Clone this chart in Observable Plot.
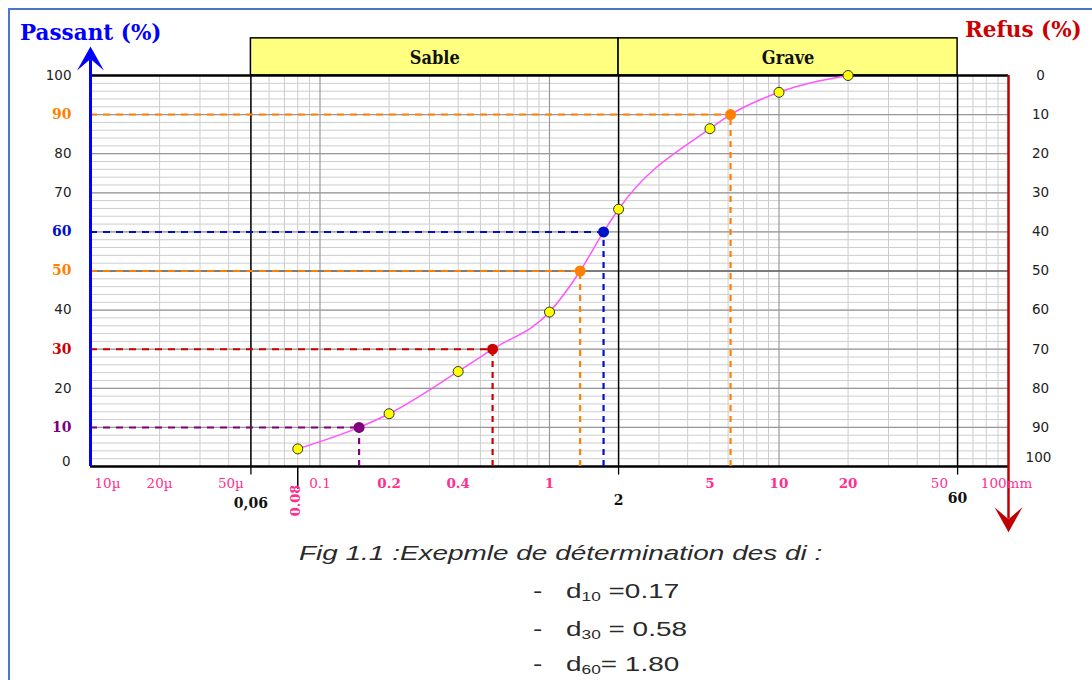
<!DOCTYPE html>
<html><head><meta charset="utf-8">
<script src="https://cdn.jsdelivr.net/npm/d3@7"></script>
<script src="https://cdn.jsdelivr.net/npm/@observablehq/plot@0.6"></script>
<style>
body{margin:0;background:#fff;width:1092px;height:680px;overflow:hidden;position:relative;font-family:"Liberation Sans",Arial,sans-serif;}
#frame{position:absolute;left:8px;top:8px;width:1100px;height:700px;border-top:2px solid #4a78c8;border-left:2px solid #4a78c8;}
#chart{position:absolute;left:0;top:0;}
.title{position:absolute;font-family:"DejaVu Serif",serif;font-weight:bold;font-size:21.5px;white-space:nowrap;line-height:24px;}
.cap{position:absolute;font-size:21px;color:#2a2a2a;white-space:nowrap;transform:scaleX(1.33);transform-origin:0 0;line-height:24px;}
.cap sub{font-size:13px;vertical-align:-3px;}
</style></head><body>
<div id="frame"></div>
<div id="chart"></div>
<div class="title" id="tl" style="left:20px;top:21px;color:#0000ff">Passant (%)</div>
<div class="title" id="tr" style="left:965px;top:18px;color:#cc0000">Refus (%)</div>
<div class="cap" style="left:299px;top:541px;font-style:italic">Fig 1.1 :Exepmle de détermination des di :</div>
<div class="cap" style="left:533px;top:579px">-</div>
<div class="cap" style="left:566px;top:579px">d<sub>10</sub> =0.17</div>
<div class="cap" style="left:533px;top:617px">-</div>
<div class="cap" style="left:566px;top:617px">d<sub>30</sub> = 0.58</div>
<div class="cap" style="left:533px;top:652px">-</div>
<div class="cap" style="left:566px;top:652px">d<sub>60</sub>= 1.80</div>
<script>
// ---- data ----
const sieveSizes = [0.08, 0.2, 0.4, 1, 2, 5, 10, 20];
const passing    = [4.5, 13.5, 24.3, 39.5, 65.8, 86.4, 95.7, 100];

const dNames   = ["d10", "d30", "d50", "d60", "d90"];
const dPercent = [10, 30, 50, 60, 90];
const dSize    = [0.148, 0.565, 1.36, 1.72, 6.15];

const zoneNames  = ["Sable", "Grave"];
const limits     = [0.05, 2, 60];
const limitLabels = ["0,06", "2", "60"];

const xTickValues = [0.01, 0.02, 0.05, 0.1, 0.2, 0.4, 1, 5, 10, 20, 50, 100];
const xTickLabels = ["10µ", "20µ", "50µ", "0.1", "0.2", "0.4", "1", "5", "10", "20", "50", "100mm"];
const xBoldLabels = ["0.2", "0.4", "1", "5", "10", "20"];

const yTicks = [0, 10, 20, 30, 40, 50, 60, 70, 80, 90, 100];
const refusTicks = [0, 10, 20, 30, 40, 50, 60, 70, 80, 90, 100];

const firstSieveLabel = "0.08";

// ---- styles ----
const dColors = ["#800080", "#cc0000", "#ff8000", "#0010c8", "#ff8000"];
const pink = "#ff2f8f";
const xMin = 0.01, xMax = 100;

const sieve = sieveSizes.map((s, i) => ({x: s, y: passing[i]}));
const dPts = dNames.map((n, i) => ({x: dSize[i], y: dPercent[i], name: n, color: dColors[i]}));
const curveData = d3.sort([...sieve, ...dPts], d => d.x);
const zones = zoneNames.map((z, i) => ({name: z, x1: limits[i], x2: limits[i + 1]}));

const decades = [0.01, 0.1, 1, 10, 100];
const minorX = [];
for (const d of decades.slice(0, 4)) for (let k = 2; k <= 9; k++) minorX.push(+(k * d).toPrecision(3));
const minorY = d3.range(0, 101, 2);

// barbed arrowhead glyphs (tip at the anchor point)
function barb(dir) {
  return {draw(ctx, size) {
    const h = Math.sqrt(size / Math.PI), w = h * 0.56, n = h * 0.52;
    ctx.moveTo(0, 0);
    ctx.lineTo(-w, dir * h);
    ctx.lineTo(0, dir * n);
    ctx.lineTo(w, dir * h);
    ctx.closePath();
  }};
}

const serif = "DejaVu Serif, serif";
const sans = "DejaVu Sans, sans-serif";

const marks = [
  Plot.ruleY(minorY, {x1: xMin, x2: xMax, stroke: "#cdcdcd", strokeWidth: 1}),
  Plot.ruleX(minorX, {y1: 0, y2: 100, stroke: "#cdcdcd", strokeWidth: 1}),
  Plot.ruleX(decades, {y1: 0, y2: 100, stroke: "#999", strokeWidth: 1.2}),
  Plot.ruleY(yTicks, {x1: xMin, x2: xMax, stroke: "#999", strokeWidth: 1.2}),
  Plot.ruleY([50], {x1: xMin, x2: xMax, stroke: "#666", strokeWidth: 1.3}),
  Plot.ruleX(limits, {y1: 0, y2: 100, stroke: "#000", strokeWidth: 1.5}),
  Plot.rect(zones, {x1: "x1", x2: "x2", y1: 100, y2: 109.5, fill: "#ffff80", stroke: "#000", strokeWidth: 1.5}),
  Plot.text(zones, {x: d => Math.sqrt(d.x1 * d.x2), y: 104.3, text: "name", fontFamily: "DejaVu Serif Condensed, DejaVu Serif, serif", fontWeight: "bold", fontSize: 18, fill: "#111"}),
  Plot.ruleY([100], {x1: xMin, x2: xMax, stroke: "#000", strokeWidth: 2.5}),
  Plot.ruleY([0], {x1: xMin, x2: xMax, stroke: "#000", strokeWidth: 2.5}),
  Plot.ruleX(limits, {y1: 0, y2: -2.2, stroke: "#000", strokeWidth: 1.3}),
  Plot.ruleX([sieveSizes[0]], {y1: 0, y2: -5.8, stroke: "#000", strokeWidth: 1.5}),
  // guide lines
  Plot.ruleY(dPts, {y: "y", x1: xMin, x2: "x", stroke: "color", strokeWidth: 2, strokeDasharray: "7,6"}),
  Plot.ruleX(dPts, {x: "x", y1: 0, y2: "y", stroke: "color", strokeWidth: 2.2, strokeDasharray: "6,5"}),
  // curve
  Plot.line(curveData, {x: "x", y: "y", curve: "monotone-x", stroke: "#ff55ff", strokeWidth: 1.5}),
  Plot.dot(sieve, {x: "x", y: "y", r: 5, fill: "#ffff00", stroke: "#333", strokeWidth: 1}),
  Plot.dot(dPts, {x: "x", y: "y", r: 5.5, fill: "color"}),
  // axis lines with arrowheads
  Plot.ruleX([xMin], {y1: 0, y2: 104, stroke: "#0000ff", strokeWidth: 3}),
  Plot.dot([0], {x: xMin, y: 107.4, r: 24, symbol: barb(1), fill: "#0000ff", stroke: "none"}),
  Plot.ruleX([xMax], {y1: 100, y2: -13.5, stroke: "#c00000", strokeWidth: 2.5}),
  Plot.dot([0], {x: xMax, y: -16.8, r: 25, symbol: barb(-1), fill: "#c00000", stroke: "none"}),
  // left labels
  Plot.text(yTicks.filter(v => v !== 0 && !dPercent.includes(v)), {x: xMin, y: d => d, text: d => String(d), dx: -19, textAnchor: "end", fontFamily: sans, fontSize: 13.5, fill: "#222"}),
  Plot.text([0], {x: xMin, y: d => d, text: d => String(d), dx: -20, dy: -5, textAnchor: "end", fontFamily: sans, fontSize: 13.5, fill: "#222"}),
  Plot.text(dPts, {x: xMin, y: "y", text: d => String(d.y), fill: "color", dx: -19, textAnchor: "end", fontFamily: serif, fontWeight: "bold", fontSize: 14}),
  // right labels
  Plot.text(refusTicks.filter(v => v !== 100), {x: xMax, y: d => 100 - d, text: d => String(d), dx: 32, fontFamily: sans, fontSize: 13.5, fill: "#222"}),
  Plot.text([100], {x: xMax, y: d => 100 - d, text: d => String(d), dx: 30, dy: -9, fontFamily: sans, fontSize: 13.5, fill: "#222"}),
  // first sieve rotated label
  Plot.text([firstSieveLabel], {x: sieveSizes[0], y: 0, text: d => d, rotate: -90, dx: -2, dy: 34, fill: pink, fontFamily: serif, fontWeight: "bold", fontSize: 13})
];

const shifts = {"10µ": 17, "50µ": -20, "100mm": -2};
xTickLabels.forEach((lab, i) => {
  marks.push(Plot.text([i], {x: xTickValues[i], y: 0, text: () => lab, dy: 17, dx: shifts[lab] || 0,
    fill: pink, fontFamily: serif, fontSize: 13.5, fontWeight: xBoldLabels.includes(lab) ? "bold" : "normal"}));
});
const limitDy = [37, 34, 32];
limitLabels.forEach((lab, i) => {
  marks.push(Plot.text([i], {x: limits[i], y: 0, text: () => lab, dy: limitDy[i], fill: "#111", fontFamily: serif, fontWeight: "bold", fontSize: 14}));
});

const chart = Plot.plot({
  width: 1092, height: 535,
  marginLeft: 90, marginRight: 84, marginTop: 75, marginBottom: 69,
  x: {type: "log", domain: [xMin, xMax], axis: null},
  y: {domain: [0, 100], axis: null},
  color: {type: "identity"},
  style: {background: "transparent", overflow: "visible"},
  marks
});
document.getElementById("chart").appendChild(chart);
</script>
</body></html>
